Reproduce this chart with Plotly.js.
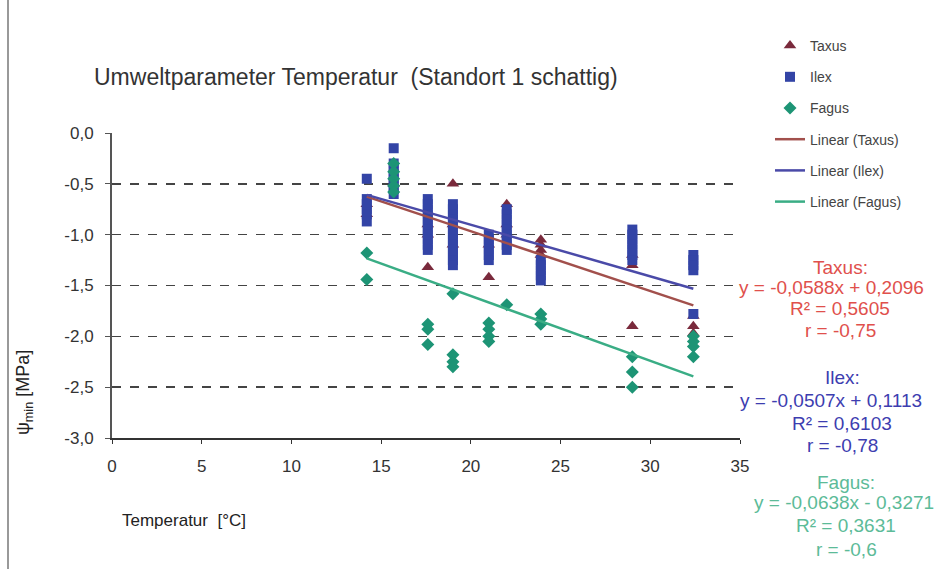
<!DOCTYPE html>
<html><head><meta charset="utf-8">
<script src="https://cdn.plot.ly/plotly-3.0.1.min.js"></script>
<style>html,body{margin:0;padding:0;background:#fff}#chart{width:939px;height:569px}</style>
</head><body><div id="chart"></div>
<script>
// ---- data ----
const taxusX = [14.2,14.2, 15.7, 17.6,17.6,17.6, 19.0,19.0,19.0, 21.0,21.0, 22.0,22.0,22.0, 23.9,23.9,23.9,23.9, 29.0,29.0,29.0, 32.4,32.4,32.4];
const taxusY = [-0.7,-0.8, -0.5, -0.9,-1.0,-1.32, -0.5,-0.9,-1.1, -1.1,-1.42, -0.7,-0.9,-1.0, -1.05,-1.1,-1.15,-1.2, -1.2,-1.3,-1.9, -1.8,-1.9,-1.97];

const ilexX = [14.2,14.2,14.2,14.2,14.2,14.2,
  15.7,15.7,15.7,15.7,15.7,15.7,15.7,15.7,
  17.6,17.6,17.6,17.6,17.6,17.6,17.6,17.6,17.6,17.6,17.6,
  19.0,19.0,19.0,19.0,19.0,19.0,19.0,19.0,19.0,19.0,19.0,19.0,19.0,
  21.0,21.0,21.0,21.0,21.0,21.0,
  22.0,22.0,22.0,22.0,22.0,22.0,22.0,22.0,22.0,
  23.9,23.9,23.9,23.9,23.9,
  29.0,29.0,29.0,29.0,29.0,29.0,29.0,
  32.4,32.4,32.4,32.4,32.4];
const ilexY = [-0.45,-0.65,-0.7,-0.75,-0.8,-0.87,
  -0.15,-0.3,-0.35,-0.4,-0.45,-0.5,-0.55,-0.6,
  -0.65,-0.7,-0.75,-0.8,-0.85,-0.9,-0.95,-1.0,-1.05,-1.1,-1.15,
  -0.7,-0.75,-0.8,-0.85,-0.9,-0.95,-1.0,-1.05,-1.1,-1.15,-1.2,-1.25,-1.3,
  -1.0,-1.05,-1.1,-1.15,-1.2,-1.25,
  -0.75,-0.8,-0.85,-0.9,-0.95,-1.0,-1.05,-1.1,-1.15,
  -1.25,-1.3,-1.35,-1.4,-1.45,
  -0.95,-1.0,-1.05,-1.1,-1.15,-1.2,-1.25,
  -1.2,-1.25,-1.3,-1.35,-1.78];

const fagusX = [14.2,14.2, 15.7,15.7,15.7,15.7,15.7, 17.6,17.6,17.6, 19.0,19.0,19.0,19.0, 21.0,21.0,21.0,21.0, 22.0, 23.9,23.9,23.9, 29.0,29.0,29.0, 32.4,32.4,32.4,32.4];
const fagusY = [-1.18,-1.44, -0.3,-0.38,-0.45,-0.52,-0.58, -1.88,-1.93,-2.08, -1.58,-2.18,-2.25,-2.3, -1.87,-1.93,-2.0,-2.05, -1.69, -1.78,-1.83,-1.88, -2.2,-2.35,-2.5, -2.0,-2.05,-2.1,-2.2];

// regression coefficients [slope, intercept]
const taxusFit = [-0.0588, 0.2096];
const ilexFit  = [-0.0507, 0.1113];
const fagusFit = [-0.0638, -0.3271];

const taxusStats = ["Taxus:", "y = -0,0588x + 0,2096", "R² = 0,5605", "r = -0,75"];
const ilexStats  = ["Ilex:", "y = -0,0507x + 0,1113", "R² = 0,6103", "r = -0,78"];
const fagusStats = ["Fagus:", "y = -0,0638x - 0,3271", "R² = 0,3631", "r = -0,6"];

const yTickVals = [0, -0.5, -1, -1.5, -2, -2.5, -3];
const yTickText = ["0,0", "-0,5", "-1,0", "-1,5", "-2,0", "-2,5", "-3,0"];
const xTickVals = [0, 5, 10, 15, 20, 25, 30, 35];

// ---- helpers ----
const FONT = "Liberation Sans, Arial, sans-serif";
const L = 112, T = 133, W = 628, H = 305;
const px = x => (x - L) / W;
const py = y => (T + H - y) / H;

function fitLine(xs, fit) {
  const x0 = Math.min(...xs), x1 = Math.max(...xs);
  return { x: [x0, x1], y: [fit[0]*x0 + fit[1], fit[0]*x1 + fit[1]] };
}

const cTaxus = '#7a2a3c', cIlex = '#3344a6', cFagus = '#1d9475';
const lTaxus = '#a2504c', lIlex = '#4a4aa8', lFagus = '#3aad85';

const tl = fitLine(taxusX, taxusFit), il = fitLine(ilexX, ilexFit), fl = fitLine(fagusX, fagusFit);

const traces = [
  {x: taxusX, y: taxusY, mode: 'markers', type: 'scatter', name: 'Taxus', legendgroup: 'a',
   marker: {symbol: 'triangle-up', size: 11, color: cTaxus}},
  {x: ilexX, y: ilexY, mode: 'markers', type: 'scatter', name: 'Ilex', legendgroup: 'b',
   marker: {symbol: 'square', size: 10, color: cIlex}},
  {x: fagusX, y: fagusY, mode: 'markers', type: 'scatter', name: 'Fagus', legendgroup: 'c',
   marker: {symbol: 'diamond', size: 10, color: cFagus}},
  {x: tl.x, y: tl.y, mode: 'lines', type: 'scatter', name: 'Linear (Taxus)', legendgroup: 'd',
   line: {color: lTaxus, width: 2.5}},
  {x: il.x, y: il.y, mode: 'lines', type: 'scatter', name: 'Linear (Ilex)', legendgroup: 'e',
   line: {color: lIlex, width: 2.5}},
  {x: fl.x, y: fl.y, mode: 'lines', type: 'scatter', name: 'Linear (Fagus)', legendgroup: 'f',
   line: {color: lFagus, width: 2.5}}
];

const annotations = [];
function statBlock(lines, color, cx, eqLeft, ys) {
  lines.forEach((t, i) => {
    const isEq = i === 1;
    annotations.push({
      xref: 'paper', yref: 'paper', x: px(isEq ? eqLeft : cx), y: py(ys[i]),
      xanchor: isEq ? 'left' : 'center', yanchor: 'middle', showarrow: false,
      text: t, font: {family: FONT, size: 19, color: color}
    });
  });
}
statBlock(taxusStats, '#e0504c', 840, 737, [267, 287, 308, 330]);
statBlock(ilexStats, '#3d3db0', 842, 738, [377, 400, 423, 446]);
statBlock(fagusStats, '#5cbb98', 846, 752, [482, 502, 525, 549]);

annotations.push({xref: 'paper', yref: 'paper', x: px(120), y: py(520), xanchor: 'left', yanchor: 'middle',
  showarrow: false, text: 'Temperatur  [°C]', font: {family: FONT, size: 17, color: '#222'}});
annotations.push({xref: 'paper', yref: 'paper', x: px(24), y: py(393), xanchor: 'center', yanchor: 'middle',
  textangle: -90, showarrow: false, text: 'ψ<sub>min</sub> [MPa]', font: {family: FONT, size: 18, color: '#222'}});
annotations.push({xref: 'paper', yref: 'paper', x: px(92), y: py(77), xanchor: 'left', yanchor: 'middle',
  showarrow: false, text: 'Umweltparameter Temperatur  (Standort 1 schattig)', font: {family: FONT, size: 23, color: '#333'}});

const layout = {
  width: 939, height: 569,
  margin: {l: L, r: 939 - L - W, t: T, b: 569 - T - H, pad: 0},
  paper_bgcolor: '#fff', plot_bgcolor: '#fff',
  showlegend: true,
  legend: {x: px(770), y: py(30), xanchor: 'left', yanchor: 'top', bgcolor: 'rgba(0,0,0,0)',
    font: {family: FONT, size: 14, color: '#444'}, tracegroupgap: 10, itemwidth: 30},
  xaxis: {range: [0, 35], autorange: false, tickvals: xTickVals, showgrid: false, zeroline: false,
    showline: true, linecolor: '#333', linewidth: 2, ticks: 'outside', ticklen: 4, tickcolor: '#333',
    tickfont: {family: FONT, size: 17, color: '#333'}, ticklabelstandoff: 8},
  yaxis: {range: [-3, 0], autorange: false, tickvals: yTickVals, ticktext: yTickText,
    showgrid: true, gridcolor: '#444', griddash: 'dash', gridwidth: 1.5, zeroline: false,
    showline: true, linecolor: '#555', linewidth: 2, ticks: 'outside', ticklen: 5, tickcolor: '#555',
    tickfont: {family: FONT, size: 17, color: '#333'}, ticklabelstandoff: 8},
  annotations: annotations,
  shapes: [
    {type: 'line', xref: 'paper', yref: 'paper', x0: px(8), x1: px(8), y0: py(0), y1: py(569),
     line: {color: '#999', width: 2}}
  ]
};

Plotly.newPlot('chart', traces, layout, {displayModeBar: false, staticPlot: true});
</script>
</body></html>
